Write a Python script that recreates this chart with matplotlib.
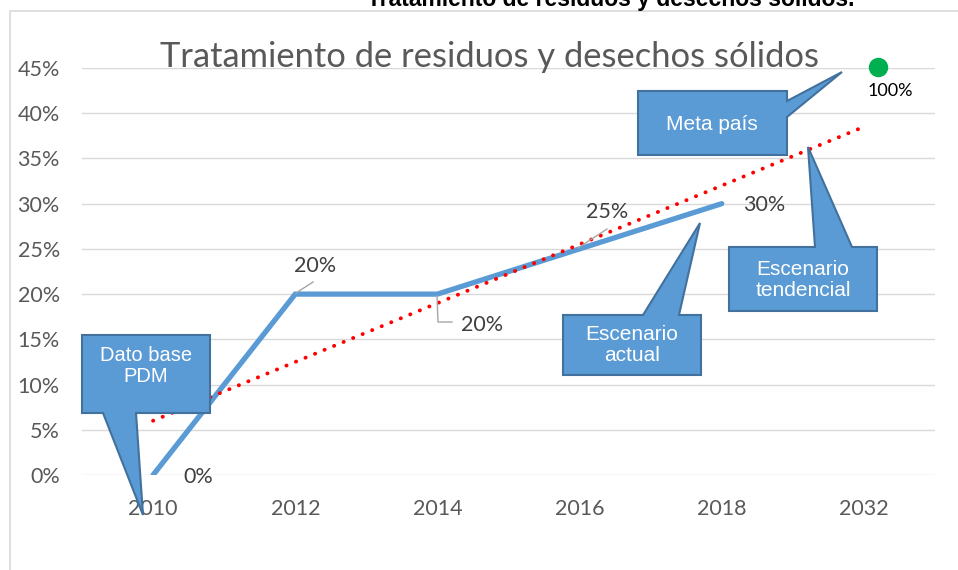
import numpy as np
import matplotlib
matplotlib.use("Agg")
import matplotlib.pyplot as plt
from matplotlib.patches import Polygon, Rectangle
from matplotlib.transforms import offset_copy

# ---- data ----
years = ["2010", "2012", "2014", "2016", "2018", "2032"]
actual = [0.00, 0.20, 0.20, 0.25, 0.30]          # Escenario actual (2010-2018)
actual_labels = ["0%", "20%", "20%", "25%", "30%"]
meta_value = 0.45                                 # plotted position of Meta país point
meta_label = "100%"
yticks = [0, 0.05, 0.10, 0.15, 0.20, 0.25, 0.30, 0.35, 0.40, 0.45]
title = "Tratamiento de residuos y desechos sólidos"
top_title = "Tratamiento de residuos y desechos sólidos."

W, H = 958, 570
fig = plt.figure(figsize=(W / 100, H / 100), dpi=100)
fig.patch.set_facecolor("white")

L, R, T, B = 82, 935, 68, 475
ax = fig.add_axes([L / W, 1 - B / H, (R - L) / W, (B - T) / H])
ax.set_xlim(-0.5, len(years) - 0.5)
ax.set_ylim(0, 0.45)
for s in ax.spines.values():
    s.set_visible(False)
ax.set_yticks(yticks)
ax.set_yticklabels([f"{int(round(v*100))}%" for v in yticks])
ax.set_xticks(range(len(years)))
ax.set_xticklabels(years)
ax.tick_params(length=0, labelsize=15.5, labelcolor="#595959", pad=17)
ax.tick_params(axis="y", pad=16)
for lab in ax.get_xticklabels() + ax.get_yticklabels():
    lab.set_fontfamily(["Lato", "DejaVu Sans"])
ax.grid(axis="y", color="#D9D9D9", lw=1)
ax.set_axisbelow(True)

xs = np.arange(len(actual))
ax.plot(xs, actual, color="#5B9BD5", lw=3.8, solid_capstyle="round",
        solid_joinstyle="miter", zorder=3)

# linear trend line with 1 forward period
coef = np.polyfit(xs, actual, 1)
xt = np.array([0, len(years) - 1])
ax.plot(xt, np.polyval(coef, xt), color="#FF0000", lw=2.8,
        linestyle=(0, (0.05, 2.6)), dash_capstyle="round", zorder=4)

# meta point
ax.plot([len(years) - 1], [meta_value], "o", color="#00B050", ms=13,
        transform=offset_copy(ax.transData, fig=fig, x=14, y=1, units="dots"),
        clip_on=False, zorder=5)

lab_kw = dict(fontsize=15.5, color="#404040", family=["Lato", "DejaVu Sans"],
              ha="center", va="center")
def px(x, y):
    return (x / W, 1 - y / H)

# data labels
pos = [(198, 477), (315, 266), (482, 325), (607, 212), (764, 205)]
for (x, y), t in zip(pos, actual_labels):
    fig.text(*px(x, y), t, **lab_kw)
fig.text(*px(890, 91), meta_label, fontsize=13, color="black",
         family=["Lato", "DejaVu Sans"], ha="center", va="center")
# leader lines
for pts in [[(296, 293), (313, 282)], [(437, 296), (438, 322), (452, 322)],
            [(578, 248), (607, 229)]]:
    xx = [p[0] / W for p in pts]
    yy = [1 - p[1] / H for p in pts]
    fig.add_artist(plt.Line2D(xx, yy, color="#A6A6A6", lw=1, transform=fig.transFigure))

# chart title
fig.text(*px(489, 57), title, fontsize=24.8, color="#595959",
         family=["Lato", "DejaVu Sans"], ha="center", va="center")
fig.text(611 / W, 1 - 6 / H, top_title, fontsize=16.5, fontweight="bold",
         color="black", family=["Liberation Sans", "DejaVu Sans"],
         ha="center", va="baseline")

# chart border
fig.add_artist(Rectangle((10 / W, -0.1), 1.1, 1 - 11 / H + 0.1, fill=False,
                         edgecolor="#D9D9D9", lw=1.2, transform=fig.transFigure))

# callouts
def callout(points, text, tx, ty, fs):
    poly = Polygon([px(x, y) for x, y in points], closed=True,
                   facecolor="#5B9BD5", edgecolor="#41719C", lw=1.5,
                   transform=fig.transFigure, zorder=10)
    fig.add_artist(poly)
    fig.text(*px(tx, ty), text, fontsize=fs, color="white",
             family=["Liberation Sans Narrow", "Liberation Sans", "DejaVu Sans"],
             ha="center", va="center", linespacing=1.15, zorder=11)

callout([(82, 335), (210, 335), (210, 413), (136, 413), (143, 515), (103, 413), (82, 413)],
        "Dato base\nPDM", 146, 366, 14.5)
callout([(638, 91), (787, 91), (787, 101), (842, 72), (787, 117), (787, 155), (638, 155)],
        "Meta país", 712, 125, 15)
callout([(729, 247), (815, 247), (808, 147), (852, 247), (877, 247), (877, 311), (729, 311)],
        "Escenario\ntendencial", 803, 280, 15)
callout([(563, 315), (643, 315), (700, 223), (679, 315), (701, 315), (701, 375), (563, 375)],
        "Escenario\nactual", 632, 345, 15)

fig.savefig("out.png", dpi=100, facecolor="white")
